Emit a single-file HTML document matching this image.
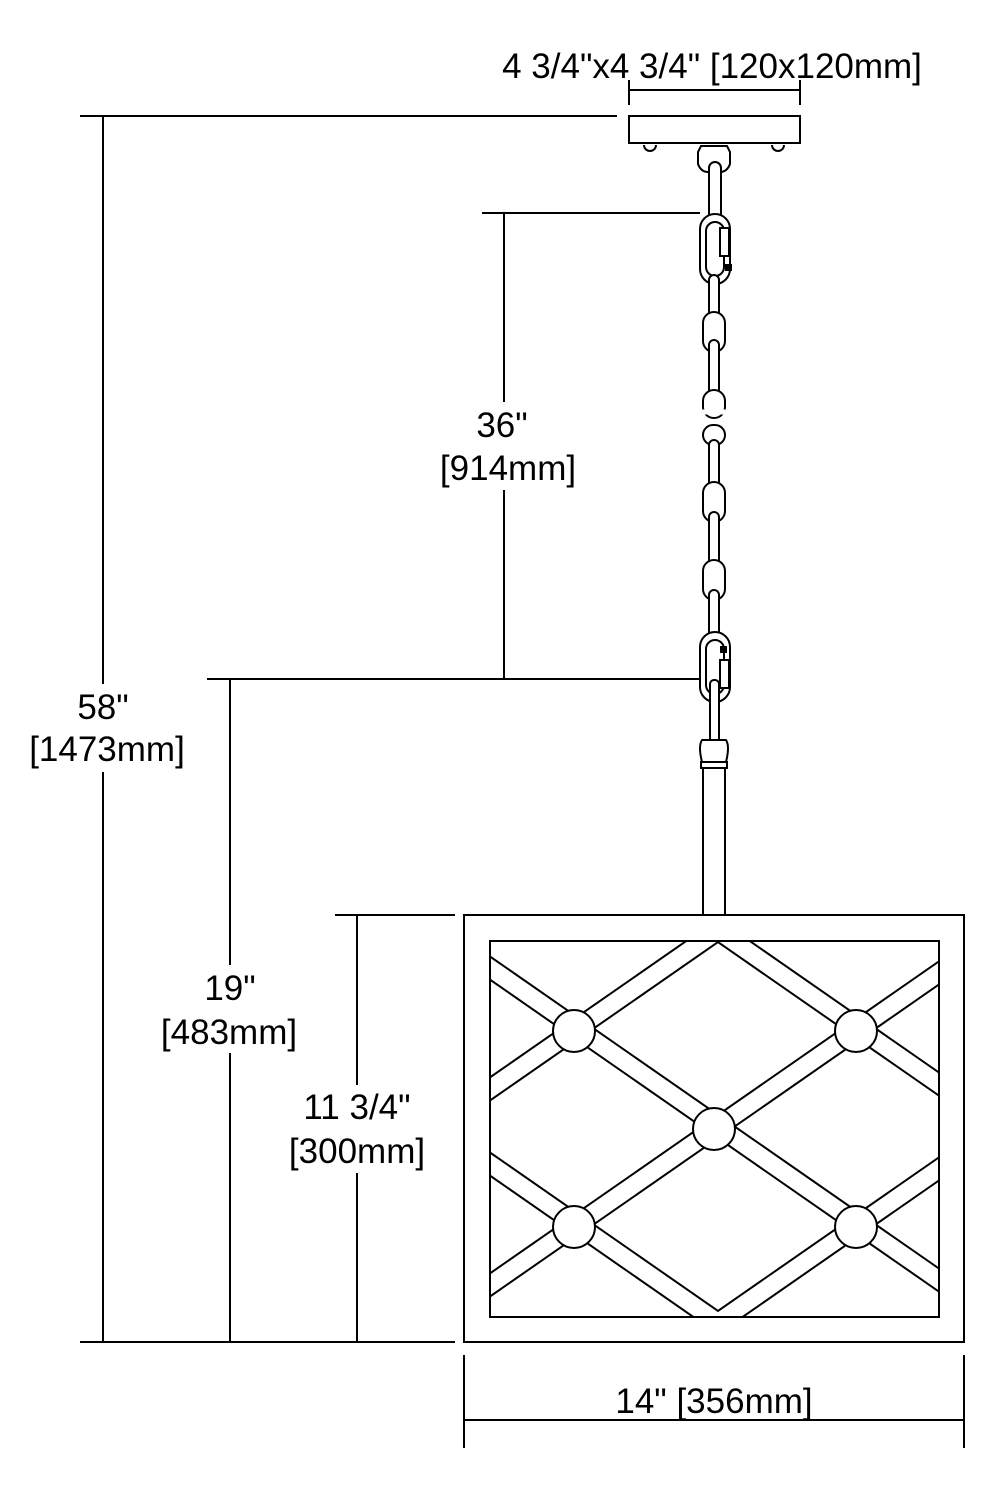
<!DOCTYPE html>
<html><head><style>html,body{margin:0;padding:0;background:#fff;overflow:hidden;width:996px;height:1500px}svg{display:block;position:absolute;left:0;top:0}</style></head><body>
<svg width="996" height="1500" viewBox="0 0 996 1500" xmlns="http://www.w3.org/2000/svg" font-family="Liberation Sans, Arial, sans-serif" font-size="35" fill="none" stroke="#000" stroke-width="2">
<defs><clipPath id="c"><rect x="490" y="941" width="449" height="376"/></clipPath></defs>
<line x1="80" y1="116" x2="617" y2="116"/>
<line x1="80" y1="1342" x2="455" y2="1342"/>
<line x1="103" y1="116" x2="103" y2="1342"/>
<line x1="482" y1="213" x2="700" y2="213"/>
<line x1="207" y1="679" x2="700" y2="679"/>
<line x1="504" y1="213" x2="504" y2="679"/>
<line x1="230" y1="679" x2="230" y2="1342"/>
<line x1="335" y1="915" x2="455" y2="915"/>
<line x1="357" y1="915" x2="357" y2="1342"/>
<line x1="464" y1="1355" x2="464" y2="1448"/>
<line x1="964" y1="1355" x2="964" y2="1448"/>
<line x1="464" y1="1420" x2="964" y2="1420"/>
<line x1="629" y1="80" x2="629" y2="105"/>
<line x1="800" y1="80" x2="800" y2="105"/>
<line x1="629" y1="90" x2="800" y2="90"/>
<g fill="#fff" stroke="none">
<rect x="20" y="684" width="175" height="88"/>
<rect x="425" y="402" width="165" height="88"/>
<rect x="150" y="965" width="160" height="88"/>
<rect x="275" y="1085" width="165" height="88"/>
</g>
<g fill="#000" stroke="none" text-anchor="middle">
<text x="712" y="78">4 3/4"x4 3/4" [120x120mm]</text>
<text x="502" y="437">36"</text><text x="508" y="480">[914mm]</text>
<text x="103" y="719">58"</text><text x="107" y="761">[1473mm]</text>
<text x="230" y="1000">19"</text><text x="229" y="1044">[483mm]</text>
<text x="357" y="1119">11 3/4"</text><text x="357" y="1163">[300mm]</text>
<text x="714" y="1413">14" [356mm]</text>
</g>
<rect x="629" y="116" width="171" height="27" fill="#fff"/>
<path d="M644 145 a6 6 0 0 0 12 0 M772 145 a6 6 0 0 0 12 0"/>
<path d="M701 146 h26 l3 6 v12 q-3 8 -10 8 h-12 q-7 0 -10 -8 v-12z" fill="#fff"/>
<g fill="#fff">
<rect x="709" y="162" width="12" height="60" rx="6"/>
<rect x="700" y="214" width="30" height="70" rx="15"/>
<rect x="706" y="222" width="18" height="54" rx="9"/>
<rect x="720" y="228" width="9" height="28"/>
<rect x="709" y="275" width="10" height="45" rx="5"/>
<rect x="703" y="312" width="22" height="40" rx="11"/>
<rect x="709" y="340" width="10" height="60" rx="5"/>
<rect x="703" y="390" width="22" height="28" rx="11"/>
<rect x="703" y="425" width="22" height="20" rx="10"/>
<rect x="709" y="440" width="10" height="50" rx="5"/>
<rect x="703" y="482" width="22" height="40" rx="11"/>
<rect x="709" y="512" width="10" height="55" rx="5"/>
<rect x="703" y="560" width="22" height="40" rx="11"/>
<rect x="709" y="590" width="10" height="50" rx="5"/>
<rect x="700" y="632" width="30" height="70" rx="15"/>
<rect x="706" y="640" width="18" height="54" rx="9"/>
<rect x="720" y="660" width="9" height="28"/>
<rect x="710" y="680" width="9" height="65" rx="4"/>
<path d="M702 740 h24 q4 6 0 22 h-24 q-4 -16 0 -22z"/>
<rect x="701" y="762" width="26" height="6"/>
<rect x="703" y="768" width="22" height="147"/>
</g>
<line x1="700" y1="412" x2="728" y2="412" stroke="#fff" stroke-width="5"/>
<rect x="726" y="265" width="5" height="5" fill="#000"/>
<rect x="721" y="647" width="5" height="5" fill="#000"/>
<rect x="464" y="915" width="500" height="427" fill="#fff"/>
<rect x="490" y="941" width="449" height="376"/>
<g clip-path="url(#c)">
<g stroke-width="21">
<line x1="300" y1="640" x2="1200" y2="1265.5"/>
<line x1="300" y1="836" x2="1200" y2="1461.5"/>
<line x1="300" y1="1032" x2="1200" y2="1657.5"/>
<line x1="300" y1="1221" x2="1200" y2="595.5"/>
<line x1="300" y1="1417" x2="1200" y2="791.5"/>
<line x1="300" y1="1613" x2="1200" y2="987.5"/>
</g>
<g stroke-width="17" stroke="#fff">
<line x1="300" y1="640" x2="1200" y2="1265.5"/>
<line x1="300" y1="836" x2="1200" y2="1461.5"/>
<line x1="300" y1="1032" x2="1200" y2="1657.5"/>
<line x1="300" y1="1221" x2="1200" y2="595.5"/>
<line x1="300" y1="1417" x2="1200" y2="791.5"/>
<line x1="300" y1="1613" x2="1200" y2="987.5"/>
</g>
</g>
<rect x="490" y="941" width="449" height="376"/>
<g fill="#fff">
<circle cx="574" cy="1031" r="21"/><circle cx="856" cy="1031" r="21"/>
<circle cx="714" cy="1129" r="21"/>
<circle cx="574" cy="1227" r="21"/><circle cx="856" cy="1227" r="21"/>
</g>
</svg>
</body></html>
